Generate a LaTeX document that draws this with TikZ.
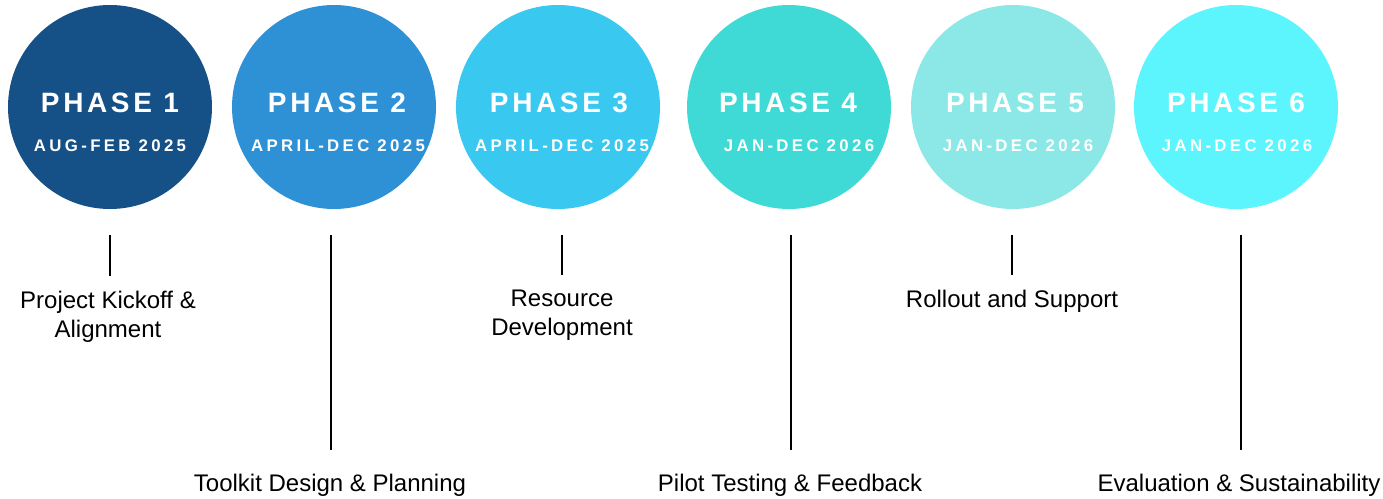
\documentclass[tikz,border=0pt]{standalone}
\usepackage{fontspec}
\setmainfont{Liberation Sans}
\newfontfamily\phasefont[LetterSpace=13]{Liberation Sans}
\newfontfamily\datefont[LetterSpace=20]{Liberation Sans}
\definecolor{cA}{RGB}{21,80,134}
\definecolor{cB}{RGB}{46,145,214}
\definecolor{cC}{RGB}{56,200,240}
\definecolor{cD}{RGB}{64,218,214}
\definecolor{cE}{RGB}{139,232,230}
\definecolor{cF}{RGB}{92,245,254}
\tikzset{
  disc/.style={circle, minimum size=204pt, inner sep=0pt, draw=none},
  phasetext/.style={text=white, font=\phasefont\bfseries\fontsize{28}{30}\selectfont, inner sep=0pt},
  datetext/.style={text=white, font=\datefont\bfseries\fontsize{16.8}{18}\selectfont, inner sep=0pt},
  label/.style={font=\fontsize{24}{29}\selectfont, align=center, inner sep=0pt, anchor=north, text=black},
  tick/.style={line width=2.5pt, black}
}
\begin{document}
\begin{tikzpicture}[x=1pt, y=-1pt]
  \useasboundingbox (0,0) rectangle (1383,498);

  % phase discs
  \node[disc, fill=cA] (p1) at (110,107) {};
  \node[disc, fill=cB] (p2) at (334,107) {};
  \node[disc, fill=cC] (p3) at (558,107) {};
  \node[disc, fill=cD] (p4) at (789,107) {};
  \node[disc, fill=cE] (p5) at (1013,107) {};
  \node[disc, fill=cF] (p6) at (1236,107) {};

  % titles and dates
  \node[phasetext] (h1) at (110,103) {PHASE 1};
  \node[phasetext] (h2) at (337,103) {PHASE 2};
  \node[phasetext] (h3) at (559,103) {PHASE 3};
  \node[phasetext] (h4) at (788,103) {PHASE 4};
  \node[phasetext] (h5) at (1015,103) {PHASE 5};
  \node[phasetext] (h6) at (1236,103) {PHASE 6};

  \node[datetext] (y1) at (110,146) {AUG-FEB 2025};
  \node[datetext] (y2) at (338,146) {APRIL-DEC 2025};
  \node[datetext] (y3) at (562,146) {APRIL-DEC 2025};
  \node[datetext] (y4) at (799,146) {JAN-DEC 2026};
  \node[datetext] (y5) at (1018,146) {JAN-DEC 2026};
  \node[datetext] (y6) at (1237,146) {JAN-DEC 2026};

  % descriptions
  \node[label] (d1) at (108,291) {Project Kickoff \&\\Alignment};
  \node[label] (d2) at (330,474) {Toolkit Design \& Planning};
  \node[label] (d3) at (562,290) {Resource\\Development};
  \node[label] (d4) at (790,474) {Pilot Testing \& Feedback};
  \node[label] (d5) at (1012,290) {Rollout and Support};
  \node[label] (d6) at (1239,474) {Evaluation \& Sustainability};

  % upper ends of the ticks
  \coordinate (t1) at (110,235);
  \coordinate (t2) at (331,235);
  \coordinate (t3) at (562,235);
  \coordinate (t4) at (791,235);
  \coordinate (t5) at (1012,235);
  \coordinate (t6) at (1241,235);

  % ticks down to the descriptions
  \draw[tick, shorten >=15pt] (t1) -- (t1 |- d1.north);
  \draw[tick, shorten >=24pt] (t2) -- (t2 |- d2.north);
  \draw[tick, shorten >=15pt] (t3) -- (t3 |- d3.north);
  \draw[tick, shorten >=24pt] (t4) -- (t4 |- d4.north);
  \draw[tick, shorten >=15pt] (t5) -- (t5 |- d5.north);
  \draw[tick, shorten >=24pt] (t6) -- (t6 |- d6.north);
\end{tikzpicture}
\end{document}
